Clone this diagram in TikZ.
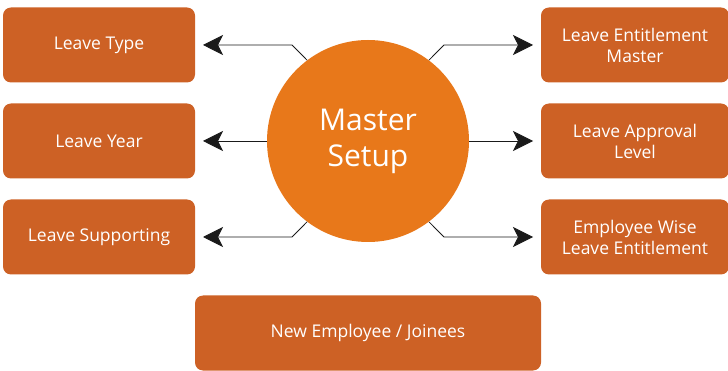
\documentclass[tikz,border=0pt]{standalone}
\usepackage{fontspec}
\setmainfont{Open Sans}
\usetikzlibrary{arrows.meta}
\definecolor{boxc}{HTML}{CD6125}
\definecolor{circc}{HTML}{E8781A}
\definecolor{linec}{HTML}{1A1A1A}
\begin{document}
\begin{tikzpicture}[x=1pt,y=-1pt,
  box/.style={fill=boxc,rounded corners=8pt,text=white,align=center,font=\fontsize{17.5}{21}\selectfont,inner sep=0pt},
  conn/.style={draw=linec,line width=0.8pt,-{Stealth[length=20pt,width=20pt,inset=5pt]}}]
\useasboundingbox (0,0) rectangle (728,371);
% boxes
\node[box,minimum width=192pt,minimum height=75pt] (lt) at (99,45) {Leave Type};
\node[box,minimum width=192pt,minimum height=75pt] (ly) at (99,141) {Leave Year};
\node[box,minimum width=192pt,minimum height=75pt] (ls) at (99,237) {Leave Supporting};
\node[box,minimum width=188pt,minimum height=75pt] (re) at (635,45) {Leave Entitlement\\Master};
\node[box,minimum width=188pt,minimum height=75pt] (ra) at (635,141) {Leave Approval\\Level};
\node[box,minimum width=188pt,minimum height=75pt] (rw) at (635,237) {Employee Wise\\Leave Entitlement};
\node[box,minimum width=346pt,minimum height=75pt] (ne) at (368,333) {New Employee / Joinees};
% circle
\node[circle,fill=circc,minimum size=202pt,inner sep=0pt,text=white,align=center,font=\fontsize{30}{36}\selectfont] (ms) at (368,141) {Master\\Setup};
% connectors
\coordinate (a1) at (292,45);
\coordinate (a2) at (444,45);
\coordinate (a3) at (292,237);
\coordinate (a4) at (444,237);
\draw[conn] (ms.127) -- (a1) -- (lt.east -| 203,0);
\draw[conn] (ms.53) -- (a2) -- (re.west -| 533,0);
\draw[conn] (ms.west) -- (ly.east -| 203,0);
\draw[conn] (ms.east) -- (ra.west -| 533,0);
\draw[conn] (ms.233) -- (a3) -- (ls.east -| 203,0);
\draw[conn] (ms.307) -- (a4) -- (rw.west -| 533,0);
\end{tikzpicture}
\end{document}
